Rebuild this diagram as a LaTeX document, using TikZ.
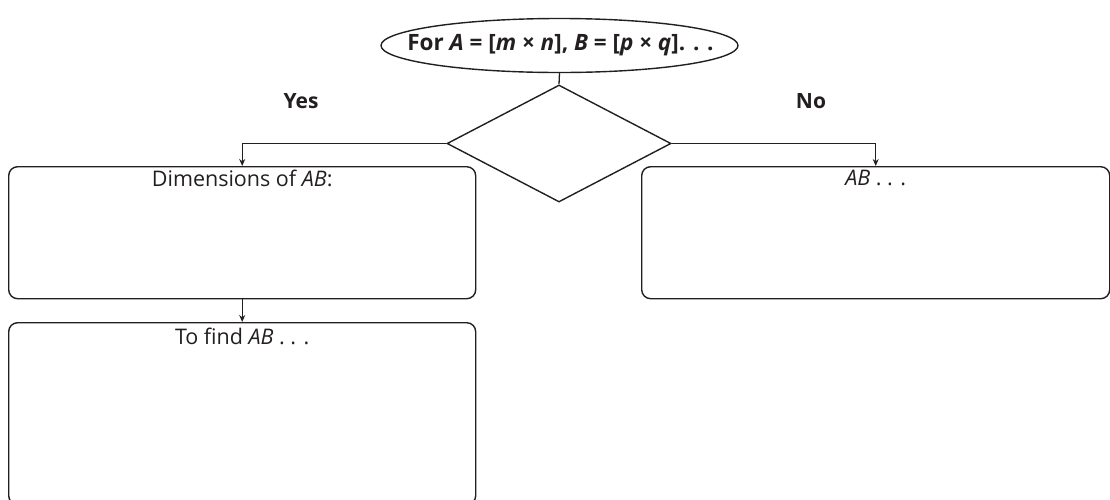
\documentclass[tikz,border=0pt]{standalone}
\usepackage{fontspec}
\setmainfont{Open Sans}
\usetikzlibrary{shapes.geometric,arrows.meta}
\definecolor{ink}{HTML}{231F20}
\begin{document}
\begin{tikzpicture}[x=1pt,y=-1pt,
  every node/.style={text=ink},
  shp/.style={draw=ink, line width=1.4pt},
  boxnode/.style={shp, rectangle, rounded corners=9pt, anchor=north west, inner sep=0pt},
  conn/.style={draw=ink, line width=1.3pt},
  arr/.style={conn, -{Stealth[length=7pt,width=6pt]}},
  bodytext/.style={font=\fontsize{21.5}{25}\selectfont, anchor=center, inner sep=0pt},
  lbl/.style={font=\fontsize{21}{25}\selectfont\bfseries, inner sep=0pt}
]
\useasboundingbox (0,0) rectangle (1110,499);
\node[shp, ellipse, minimum width=357pt, minimum height=54pt, inner sep=0pt] (top) at (559.5,45.5) {};
\node[inner sep=0pt, font=\fontsize{22.5}{26}\selectfont\bfseries] (toptext) at ([xshift=1pt]top.center)
  {For \textit{A} = [\textit{m} × \textit{n}], \textit{B} = [\textit{p} × \textit{q}]. . .};
\node[shp, diamond, aspect=1.915, minimum width=224pt, minimum height=117pt, inner sep=0pt] (dia) at (559,143.5) {};
\node[boxnode, minimum width=467pt, minimum height=132pt] (box1) at (8,166) {};
\node[boxnode, minimum width=467pt, minimum height=182pt] (box2) at (8,322) {};
\node[boxnode, minimum width=468pt, minimum height=132pt] (box3) at (641,166) {};
\node[bodytext] (t1) at ([yshift=-12pt]box1.north) {Dimensions of \textit{AB}:};
\node[bodytext] (t2) at ([yshift=-14pt]box2.north) {To find \textit{AB} . . .};
\node[bodytext] (t3) at ([yshift=-12pt]box3.north) {\textit{AB} . . .};
\draw[conn] (top.south) -- (dia.north);
\draw[arr] (dia.west) -| (box1.north);
\draw[arr] (dia.east) -| (box3.north);
\draw[arr] (box1.south) -- (box2.north);
\node[lbl] (yes) at (301,101) {Yes};
\node[lbl] (no) at (811,101) {No};
\end{tikzpicture}
\end{document}
